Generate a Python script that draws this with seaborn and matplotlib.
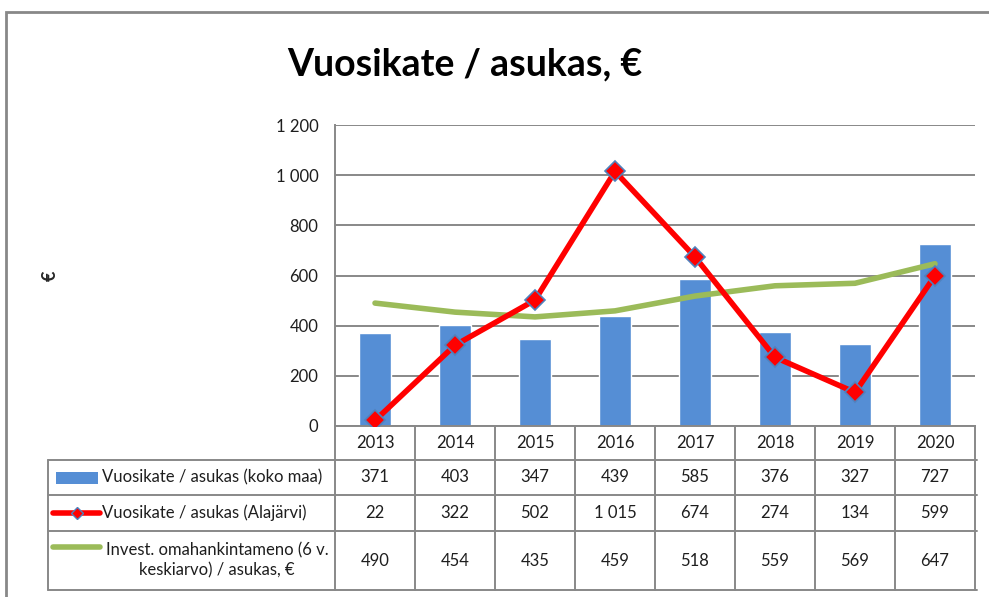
import numpy as np
import pandas as pd
import matplotlib
matplotlib.use("Agg")
import matplotlib.pyplot as plt
import matplotlib.transforms as mtransforms
from matplotlib.lines import Line2D
from matplotlib.patches import Rectangle
import seaborn as sns

# data
years = ["2013", "2014", "2015", "2016", "2017", "2018", "2019", "2020"]
koko_maa = [371, 403, 347, 439, 585, 376, 327, 727]
alajarvi = [22, 322, 502, 1015, 674, 274, 134, 599]
invest = [490, 454, 435, 459, 518, 559, 569, 647]
row_labels = ["Vuosikate / asukas (koko maa)",
              "Vuosikate / asukas (Alajärvi)",
              "Invest. omahankintameno (6 v.\nkeskiarvo) / asukas, €"]
yticks = [0, 200, 400, 600, 800, 1000, 1200]

BAR = "#558ED5"
RED = "#FF0000"
GREEN = "#9BBB59"
GRID = "#888888"
TXT = "#1e1e1e"

sns.set_style("white")
plt.rcParams['font.family'] = ['Lato', 'DejaVu Sans']

W, H = 989, 597
fx = lambda x: x / W
fy = lambda y: 1 - y / H

fig = plt.figure(figsize=(W / 100, H / 100), dpi=100)
ax = fig.add_axes([fx(335), fy(426), fx(975) - fx(335), fy(125) - fy(426)])

df = pd.DataFrame({"year": years, "koko": koko_maa, "ala": alajarvi, "inv": invest})
df["pos"] = np.arange(len(years))

sns.barplot(data=df, x="year", y="koko", color=BAR, width=0.41, saturation=1, ax=ax, zorder=2)
sns.lineplot(x=df["pos"], y=df["inv"], color=GREEN, linewidth=4, ax=ax, zorder=3)
sns.lineplot(x=df["pos"], y=df["ala"], color=RED, linewidth=4, marker="D", markersize=10,
             markerfacecolor=RED, markeredgecolor="#4F81BD", markeredgewidth=1.2, ax=ax, zorder=4)

ax.set_xlim(-0.5, len(years) - 0.5)
ax.set_ylim(0, 1200)
ax.set_yticks(yticks)
ax.set_yticklabels([f"{v:,}".replace(",", " ") for v in yticks], fontsize=12, color=TXT)
ax.tick_params(axis="y", length=0, pad=12)
ax.set_xticks([])
ax.set_xlabel("")
ax.set_ylabel("")
ax.grid(axis="y", color=GRID, linewidth=1.4, zorder=0)
ax.set_axisbelow(True)
for s in ["top", "right"]:
    ax.spines[s].set_visible(False)
ax.spines["left"].set_color(GRID)
ax.spines["left"].set_linewidth(1.4)
ax.spines["bottom"].set_color(GRID)
ax.spines["bottom"].set_linewidth(1.4)

# title and y label
fig.text(fx(465), fy(64), "Vuosikate / asukas, €", fontsize=27, fontweight="bold",
         ha="center", va="center", color="black")
fig.text(fx(50), fy(276), "€", fontsize=13, fontweight="bold", rotation=90,
         ha="center", va="center")

# chart frame
fig.patches.append(Rectangle((fx(6), fy(1000)), 2, fy(12) - fy(1000), transform=fig.transFigure,
                             fill=False, edgecolor="#888888", linewidth=2))

# data table
trans = mtransforms.blended_transform_factory(ax.transData, fig.transFigure)
row_y = [426, 460, 495, 531, 590]
lw = 1.4
for b in np.arange(len(years) + 1) - 0.5:
    fig.add_artist(Line2D([b, b], [fy(426), fy(590)], transform=trans, color=GRID, lw=lw))
for y in row_y[1:]:
    fig.add_artist(Line2D([fx(48), fx(977)], [fy(y), fy(y)], color=GRID, lw=lw))
fig.add_artist(Line2D([fx(48), fx(48)], [fy(460), fy(590)], color=GRID, lw=lw))

hdr_c = (row_y[0] + row_y[1]) / 2
for i, yr in enumerate(years):
    fig.text(i, fy(hdr_c), yr, transform=trans, ha="center", va="center", fontsize=12, color=TXT)

series = [koko_maa, alajarvi, invest]
for r, vals in enumerate(series):
    c = (row_y[r + 1] + row_y[r + 2]) / 2
    for i, v in enumerate(vals):
        fig.text(i, fy(c), f"{v:,}".replace(",", " "), transform=trans,
                 ha="center", va="center", fontsize=12, color=TXT)

# row headers with legend keys
c1 = (row_y[1] + row_y[2]) / 2
c2 = (row_y[2] + row_y[3]) / 2
c3 = (row_y[3] + row_y[4]) / 2
fig.patches.append(Rectangle((fx(56), fy(c1 + 6)), fx(98) - fx(56), fy(c1 - 6) - fy(c1 + 6),
                             transform=fig.transFigure, facecolor=BAR, edgecolor="none"))
fig.add_artist(Line2D([fx(53), fx(100)], [fy(c2), fy(c2)], color=RED, lw=4))
fig.add_artist(Line2D([fx(77)], [fy(c2)], color=RED, marker="D", markersize=6,
                      markeredgecolor="#4F81BD", markeredgewidth=1))
fig.add_artist(Line2D([fx(53), fx(100)], [fy(c3 - 14), fy(c3 - 14)], color=GREEN, lw=4))
fig.text(fx(102), fy(c1), row_labels[0], ha="left", va="center", fontsize=12, color=TXT)
fig.text(fx(102), fy(c2), row_labels[1], ha="left", va="center", fontsize=12, color=TXT)
fig.text(fx(217), fy(c3), row_labels[2], ha="center", va="center", fontsize=12,
         color=TXT, multialignment="center", linespacing=1.35)

fig.savefig("out.png", dpi=100)
